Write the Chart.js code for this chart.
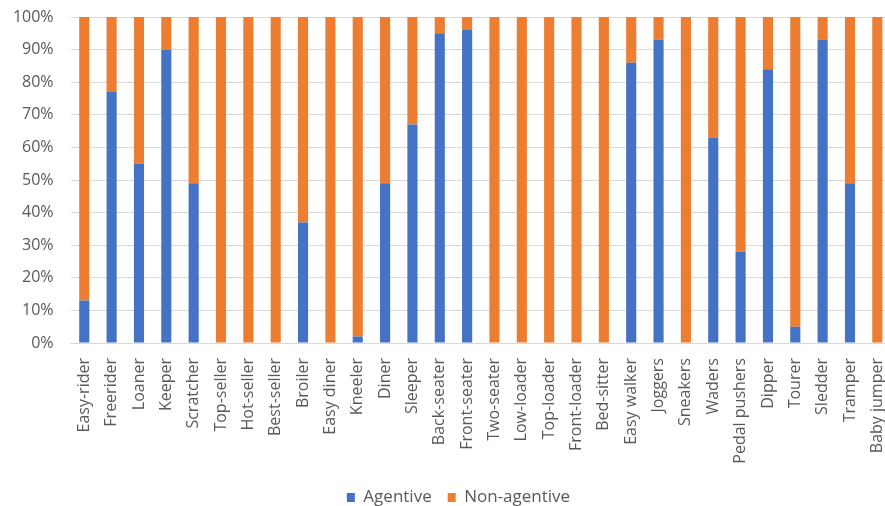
<!DOCTYPE html>
<html>
<head>
<meta charset="utf-8">
<script src="https://cdn.jsdelivr.net/npm/chart.js@4/dist/chart.umd.min.js"></script>
<style>
  html, body { margin: 0; padding: 0; background: #fff; overflow: hidden; }
  #wrap { position: relative; width: 891px; height: 516px; }
</style>
</head>
<body>
<div id="wrap"><canvas id="chart"></canvas></div>
<script>
// Category names (compound nouns) and agentive share in percent
const categories = [
  "Easy-rider", "Freerider", "Loaner", "Keeper", "Scratcher", "Top-seller",
  "Hot-seller", "Best-seller", "Broiler", "Easy diner", "Kneeler", "Diner",
  "Sleeper", "Back-seater", "Front-seater", "Two-seater", "Low-loader",
  "Top-loader", "Front-loader", "Bed-sitter", "Easy walker", "Joggers",
  "Sneakers", "Waders", "Pedal pushers", "Dipper", "Tourer", "Sledder",
  "Tramper", "Baby jumper"
];
const agentive = [
  13, 77, 55, 90, 49, 0,
  0, 0, 37, 0, 2, 49,
  67, 95, 96, 0, 0,
  0, 0, 0, 86, 93,
  0, 63, 28, 84, 5, 93,
  49, 0
];
const nonAgentive = [
  87, 23, 45, 10, 51, 100,
  100, 100, 63, 100, 98, 51,
  33, 5, 4, 100, 100,
  100, 100, 100, 14, 7,
  100, 37, 72, 16, 95, 7,
  51, 100
];
const yTicks = [0, 10, 20, 30, 40, 50, 60, 70, 80, 90, 100];

const FONT = "'Open Sans', 'Noto Sans', sans-serif";
const TEXT = "#595959";
const GRID = "#d9d9d9";

// Nudge the legend row a little to the right of the canvas centre
const legendShift = {
  id: "legendShift",
  afterLayout(chart) {
    const lg = chart.legend;
    if (lg) { lg.left += 13; lg.right += 13; }
  }
};

new Chart(document.getElementById("chart"), {
  type: "bar",
  data: {
    labels: categories,
    datasets: [
      { label: "Agentive", data: agentive, backgroundColor: "#4472C4",
        barPercentage: 0.37, categoryPercentage: 1 },
      { label: "Non-agentive", data: nonAgentive, backgroundColor: "#ED7D31",
        barPercentage: 0.37, categoryPercentage: 1 }
    ]
  },
  plugins: [legendShift],
  options: {
    responsive: true,
    maintainAspectRatio: false,
    animation: false,
    layout: { padding: { top: 17, right: 0, left: 0, bottom: 0 } },
    plugins: {
      tooltip: { enabled: false },
      legend: {
        position: "bottom",
        labels: {
          font: { family: FONT, size: 17 },
          color: TEXT,
          boxWidth: 8,
          boxHeight: 9,
          padding: 16
        }
      }
    },
    scales: {
      x: {
        stacked: true,
        grid: { display: false, drawTicks: false },
        border: { color: GRID, width: 1 },
        ticks: {
          font: { family: FONT, size: 16 },
          color: TEXT,
          minRotation: 90,
          maxRotation: 90,
          autoSkip: false,
          padding: 15
        },
        afterFit(scale) {
          scale.height = 130;
          scale.paddingLeft = 0;
          scale.paddingRight = 0;
        }
      },
      y: {
        stacked: true,
        min: 0,
        max: 100,
        afterBuildTicks(scale) { scale.ticks = yTicks.map(v => ({ value: v })); },
        grid: { color: GRID, lineWidth: 1, drawTicks: false },
        border: { display: false },
        ticks: {
          font: { family: FONT, size: 16 },
          color: TEXT,
          padding: 17,
          callback: v => v + "%"
        },
        afterFit(scale) {
          scale.width = 70.6;
          scale.paddingTop = 0;
          scale.paddingBottom = 0;
        }
      }
    }
  }
});
</script>
</body>
</html>
